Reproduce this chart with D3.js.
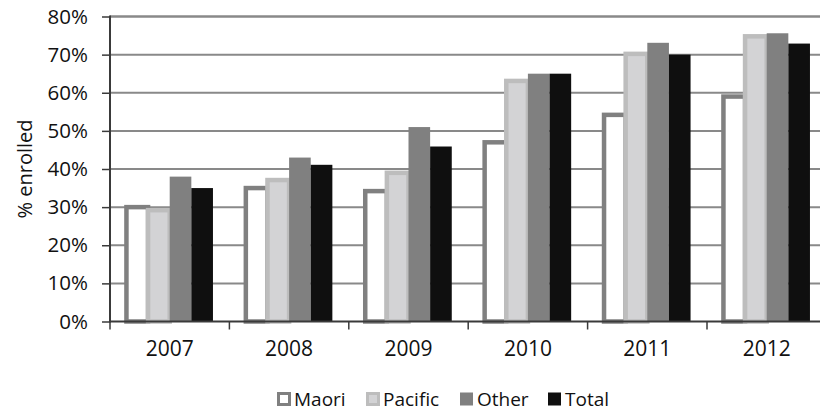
<!DOCTYPE html>
<html>
<head>
<meta charset="utf-8">
<script src="https://cdn.jsdelivr.net/npm/d3@7"></script>
<style>
  html, body { margin: 0; padding: 0; background: #fff; }
  svg { display: block; }
  text { font-family: "Open Sans", "Liberation Sans", sans-serif; fill: #111; }
</style>
</head>
<body>
<svg id="chart" width="820" height="412"></svg>
<script>
// Enrolment share by ethnic group, 2007–2012
const years = ["2007", "2008", "2009", "2010", "2011", "2012"];
const seriesNames = ["Maori", "Pacific", "Other", "Total"];
const maori   = [30, 35, 34.2, 47, 54.2, 59];
const pacific = [29.2, 37.1, 39, 63.1, 70.2, 74.8];
const other   = [38, 43, 51, 65, 73.1, 75.6];
const total   = [35, 41.1, 45.9, 65, 70, 72.9];
const yTicks  = [0, 10, 20, 30, 40, 50, 60, 70, 80];
const yTitle  = "% enrolled";

const seriesValues = { Maori: maori, Pacific: pacific, Other: other, Total: total };
const seriesStyle = {
  Maori:   { fill: "#ffffff", stroke: "#808080", sw: 4.5 },
  Pacific: { fill: "#d3d3d5", stroke: "#bdbdbd", sw: 4.5 },
  Other:   { fill: "#808080", stroke: "none",    sw: 0 },
  Total:   { fill: "#0f0f0f", stroke: "none",    sw: 0 }
};

const svg = d3.select("#chart");
const plot = { left: 110, right: 826.4, top: 16.5, bottom: 321.5 };

const x = d3.scaleBand().domain(years).range([plot.left, plot.right]).padding(0);
const xs = d3.scaleBand().domain(seriesNames).range([0, x.bandwidth()])
  .paddingInner(0).paddingOuter(0.76);
const y = d3.scaleLinear().domain([0, 80]).range([plot.bottom, plot.top]);

// horizontal gridlines
svg.append("g").selectAll("line").data(yTicks.filter(d => d > 0)).join("line")
  .attr("x1", plot.left).attr("x2", 820)
  .attr("y1", d => y(d)).attr("y2", d => y(d))
  .attr("stroke", "#898989").attr("stroke-width", d => d === 80 ? 2.5 : 2);

// bars
const groups = svg.append("g").selectAll("g").data(years).join("g")
  .attr("transform", d => `translate(${x(d)},0)`);
groups.each(function(year, i) {
  const g = d3.select(this);
  seriesNames.forEach(name => {
    const v = seriesValues[name][i];
    const st = seriesStyle[name];
    g.append("rect")
      .attr("x", xs(name))
      .attr("width", xs.bandwidth())
      .attr("y", y(v))
      .attr("height", y(0) - y(v))
      .attr("fill", st.fill)
      .attr("stroke", st.stroke)
      .attr("stroke-width", st.sw);
  });
});

// y axis
const yAxis = d3.axisLeft(y).tickValues(yTicks).tickSize(8).tickPadding(14)
  .tickFormat(d => d + "%");
const gy = svg.append("g").attr("transform", `translate(${plot.left},0)`).call(yAxis);
gy.select(".domain").attr("stroke", "#3a3a3a").attr("stroke-width", 2)
  .attr("d", `M0,${plot.top - 1}V${plot.bottom + 1}`);
gy.selectAll(".tick line").attr("stroke", "#3a3a3a").attr("stroke-width", 1.5);
gy.selectAll(".tick text").attr("font-size", 20.5).attr("fill", "#111")
  .attr("font-family", "'Open Sans', sans-serif");

// x axis line with boundary ticks
svg.append("line")
  .attr("x1", plot.left).attr("x2", 820)
  .attr("y1", plot.bottom).attr("y2", plot.bottom)
  .attr("stroke", "#3a3a3a").attr("stroke-width", 2);
svg.append("g").selectAll("line").data(years).join("line")
  .attr("x1", d => x(d)).attr("x2", d => x(d))
  .attr("y1", plot.bottom).attr("y2", plot.bottom + 8)
  .attr("stroke", "#3a3a3a").attr("stroke-width", 1.5);

const xAxis = d3.axisBottom(x).tickSize(0).tickPadding(20);
const gx = svg.append("g").attr("transform", `translate(0,${plot.bottom})`).call(xAxis);
gx.select(".domain").remove();
gx.selectAll(".tick text").attr("font-size", 21).attr("fill", "#111")
  .attr("font-family", "'Open Sans', sans-serif");

// y axis title
svg.append("text")
  .attr("transform", `translate(32,${(plot.top + plot.bottom) / 2}) rotate(-90)`)
  .attr("text-anchor", "middle")
  .attr("font-size", 20)
  .text(yTitle);

// legend
const legendX = [277, 366, 460, 548];
const legend = svg.append("g").selectAll("g").data(seriesNames).join("g")
  .attr("transform", (d, i) => `translate(${legendX[i]},399)`);
legend.append("rect")
  .attr("x", d => seriesStyle[d].sw ? 1.5 : 0)
  .attr("y", d => seriesStyle[d].sw ? -5.5 : -6.5)
  .attr("width", d => seriesStyle[d].sw ? 11 : 13)
  .attr("height", d => seriesStyle[d].sw ? 11 : 13)
  .attr("fill", d => seriesStyle[d].fill)
  .attr("stroke", d => seriesStyle[d].stroke)
  .attr("stroke-width", d => seriesStyle[d].sw ? 3 : 0);
legend.append("text")
  .attr("x", 17)
  .attr("y", 7)
  .attr("font-size", 19)
  .text(d => d);
</script>
</body>
</html>
